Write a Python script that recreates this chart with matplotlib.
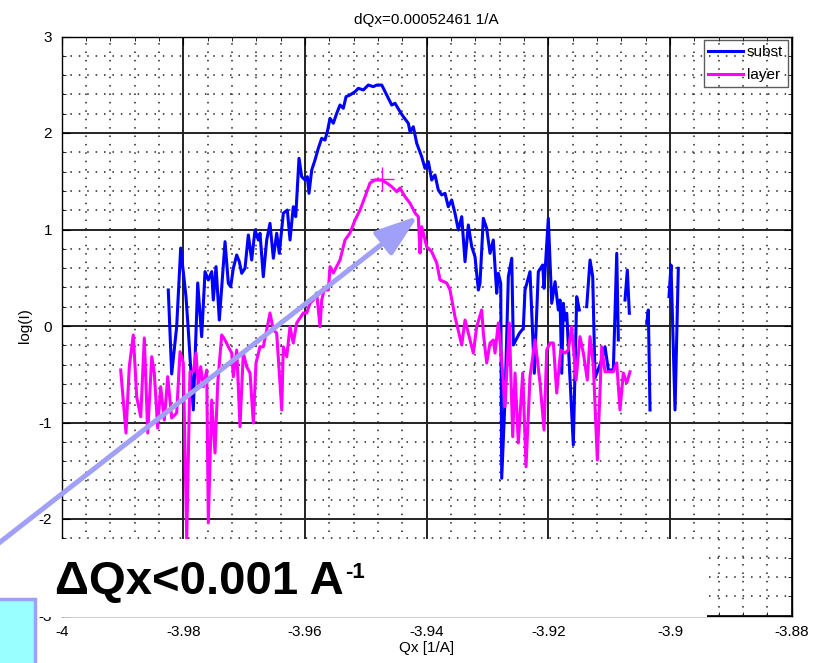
import numpy as np
import matplotlib
matplotlib.use("Agg")
import matplotlib.pyplot as plt
from matplotlib.patches import Rectangle
from matplotlib.ticker import MultipleLocator, FormatStrFormatter

plt.rcParams['font.family'] = ['Liberation Sans', 'DejaVu Sans']
plt.rcParams['axes.unicode_minus'] = False

nan = np.nan

# substrate scan, gaps where the counts were zero
subst_qx = [-3.98248, -3.98192, -3.98110, -3.98044, -3.97957, -3.97919, -3.97837, -3.97764,
            -3.97699, -3.97644, -3.97590, -3.97534, -3.97508, -3.97463, -3.97409, -3.97315,
            -3.97261, -3.97222, -3.97179, -3.97123, -3.97080, -3.97041, -3.96987, -3.96932,
            -3.96877, -3.96822, -3.96768, -3.96740, -3.96686, -3.96630, -3.96576, -3.96521,
            -3.96466, -3.96423, -3.96357, -3.96291, -3.96247, -3.96193, -3.96153, -3.96099,
            -3.96055, -3.96000, -3.95962, -3.95935, -3.95890, -3.95836, -3.95782, -3.95726,
            -3.95672, -3.95634, -3.95589, -3.95535, -3.95479, -3.95425, -3.95371, -3.95326,
            -3.95261, -3.95178, -3.95124, -3.95042, -3.94960, -3.94878, -3.94822, -3.94739,
            -3.94685, -3.94631, -3.94575, -3.94521, -3.94439, -3.94384, -3.94302, -3.94274,
            -3.94220, -3.94164, -3.94082, -3.94028, -3.93973, -3.93918, -3.93863, -3.93809,
            -3.93753, -3.93699, -3.93645, -3.93589, -3.93535, -3.93480, -3.93424, -3.93370,
            -3.93316, -3.93260, -3.93206, -3.93151, -3.93124, -3.93069, -3.93014, -3.92959,
            -3.92905, -3.92849, -3.92823, -3.92783, -3.92767, -3.92713, -3.92658, -3.92602,
            -3.92576, -3.92477, -3.92412, -3.92384, -3.92302, -3.92231, -3.92165, -3.92093,
            -3.92071, -3.92001, -3.91945, -3.91890, -3.91836, -3.91808, -3.91780, -3.91754,
            -3.91726, -3.91698, -3.91590, -3.91534, -3.91491, -3.91430, -3.91370, -3.91315,
            -3.91271, -3.91233, -3.91123, -3.91069, -3.91014, -3.90932, -3.90876, -3.90850,
            -3.90795, -3.90740, -3.90702, -3.90669, -3.90520, -3.90383, -3.90357, -3.90329,
            -3.90170, -3.90017, -3.89984, -3.89918, -3.89864]
subst_logi = [0.373, -0.497, -0.007, 0.808, 0.304, -0.041, -0.870, 0.446,
              -0.111, 0.563, 0.477, 0.563, 0.269, 0.615, 0.062, 0.874,
              0.442, 0.407, 0.598, 0.736, 0.666, 0.546, 0.598, 0.943,
              0.684, 0.995, 0.891, 0.961, 0.511, 0.891, 1.064, 0.702,
              0.961, 0.753, 1.168, 1.202, 0.891, 1.236, 1.133, 1.738,
              1.547, 1.513, 1.547, 1.375, 1.617, 1.720, 1.841, 1.945,
              1.927, 2.013, 2.152, 2.101, 2.204, 2.290, 2.256, 2.376,
              2.394, 2.428, 2.463, 2.446, 2.497, 2.480, 2.497, 2.497,
              2.428, 2.360, 2.290, 2.308, 2.221, 2.169, 2.101, 2.013,
              2.065, 1.893, 1.754, 1.634, 1.703, 1.513, 1.565, 1.409,
              1.358, 1.375, 1.236, 1.306, 1.168, 0.995, 1.133, 0.666,
              1.047, 0.822, 0.718, 0.373, 0.442, 1.116, 1.012, 0.753,
              0.891, 0.339, 0.546, 0.442, -1.578, -0.767, 0.511, 0.702,
              -0.197, -0.076, -0.024, 0.373, 0.563, -0.490, 0.563, 0.632,
              0.391, 1.116, 0.235, 0.459, 0.166, 0.269, -0.490, 0.235,
              0.062, 0.132, -1.233, 0.304, 0.166, nan, 0.200, 0.684,
              0.511, -0.539, -0.352, -0.215, -0.456, -0.456, 0.753, -0.145,
              nan, 0.269, 0.580, 0.132, nan, 0.028, 0.166, -0.870,
              nan, 0.304, 0.632, -0.870, 0.598]

# layer scan
layer_qx = [-3.99030, -3.98943, -3.98889, -3.98823, -3.98767, -3.98701, -3.98642, -3.98586,
            -3.98520, -3.98478, -3.98422, -3.98373, -3.98313, -3.98257, -3.98192, -3.98110,
            -3.98055, -3.98001, -3.97945, -3.97891, -3.97837, -3.97792, -3.97754, -3.97715,
            -3.97672, -3.97616, -3.97590, -3.97534, -3.97480, -3.97435, -3.97370, -3.97315,
            -3.97261, -3.97205, -3.97179, -3.97123, -3.97069, -3.97015, -3.96959, -3.96904,
            -3.96850, -3.96806, -3.96740, -3.96686, -3.96630, -3.96576, -3.96521, -3.96466,
            -3.96383, -3.96357, -3.96301, -3.96247, -3.96193, -3.96137, -3.96083, -3.96028,
            -3.95972, -3.95918, -3.95864, -3.95808, -3.95754, -3.95726, -3.95688, -3.95617,
            -3.95589, -3.95535, -3.95425, -3.95343, -3.95261, -3.95178, -3.95096, -3.95014,
            -3.94932, -3.94850, -3.94739, -3.94657, -3.94575, -3.94493, -3.94439, -3.94356,
            -3.94274, -3.94192, -3.94138, -3.94110, -3.94082, -3.94000, -3.93918, -3.93835,
            -3.93781, -3.93671, -3.93617, -3.93535, -3.93424, -3.93370, -3.93316, -3.93234,
            -3.93178, -3.93096, -3.93069, -3.93014, -3.92959, -3.92905, -3.92877, -3.92823,
            -3.92767, -3.92713, -3.92642, -3.92586, -3.92548, -3.92494, -3.92422, -3.92367,
            -3.92302, -3.92219, -3.92137, -3.92071, -3.92027, -3.91972, -3.91918, -3.91863,
            -3.91797, -3.91726, -3.91672, -3.91616, -3.91545, -3.91480, -3.91425, -3.91360,
            -3.91315, -3.91261, -3.91195, -3.91123, -3.91069, -3.90932, -3.90876, -3.90822,
            -3.90768, -3.90712, -3.90658]
layer_logi = [-0.456, -1.109, -0.422, -0.093, -0.736, -0.940, -0.124, -1.109,
              -0.318, -0.487, -1.057, -0.629, -0.974, -0.525, -0.953, -0.902,
              -0.266, -0.383, -2.218, -0.474, -0.474, -0.280, -0.629, -0.422,
              -0.629, -0.456, -2.041, -0.767, -1.316, -0.591, -0.093, -0.145,
              -0.215, -0.280, -0.525, -0.249, -1.044, -0.280, -0.422, -0.487,
              -1.005, -0.383, -0.215, -0.215, -0.041, 0.135, -0.041, -0.073,
              -0.870, -0.215, -0.318, -0.007, -0.176, 0.031, 0.083, 0.135,
              0.135, 0.238, 0.269, 0.342, -0.007, 0.269, 0.373, 0.373,
              0.615, 0.549, 0.684, 0.891, 0.964, 1.098, 1.202, 1.340,
              1.482, 1.513, 1.513, 1.482, 1.444, 1.392, 1.430, 1.340,
              1.272, 1.171, 1.133, 0.756, 1.029, 0.822, 0.770, 0.653,
              0.477, 0.446, 0.373, 0.096, -0.197, 0.062, -0.073, -0.280,
              -0.007, 0.166, -0.073, -0.383, -0.176, -0.145, -0.280, 0.031,
              -0.352, -0.836, 0.031, -1.147, -0.487, -1.212, -0.487, -1.458,
              -0.525, -0.145, -0.591, -1.078, -0.249, -0.176, -0.176, -0.694,
              -0.249, -0.280, -0.249, -0.007, -0.560, -0.111, -0.280, -0.560,
              -0.111, -0.404, -1.389, -0.215, -0.474, -0.474, -0.383, -0.870,
              -0.487, -0.591, -0.474]

# layer peak position
peak_qx = -3.94734
peak_logi = 1.523

dqx = 0.00052461

W, H = 816, 663
fig = plt.figure(figsize=(W / 100, H / 100), dpi=100)
ax = fig.add_axes([61.7 / W, 1 - 615.5 / H, 730.0 / W, 579.0 / H])

ax.plot(subst_qx, subst_logi, color='#0000ff', lw=2.2, label='subst')
ax.plot(layer_qx, layer_logi, color='#ff00ff', lw=2.2, label='layer')
ax.plot([peak_qx], [peak_logi], '+', color='#ff00ff', ms=17, mew=1.0)

ax.set_xlim(-4, -3.88)
ax.set_ylim(-3, 3)
ax.xaxis.set_major_locator(MultipleLocator(0.02))
ax.xaxis.set_minor_locator(MultipleLocator(0.004))
ax.yaxis.set_major_locator(MultipleLocator(1))
ax.yaxis.set_minor_locator(MultipleLocator(0.2))
ax.xaxis.set_major_formatter(FormatStrFormatter('%g'))
ax.yaxis.set_major_formatter(FormatStrFormatter('%g'))
ax.grid(True, which='major', color='#222222', lw=1.4, ls='-')
ax.grid(True, which='minor', color='#222222', lw=1.1, ls=(0, (1, 4.5)))
ax.tick_params(which='both', direction='in', top=True, right=True, labelsize=11)
ax.tick_params(which='major', length=6, pad=7)
ax.tick_params(which='minor', length=3)
for s in ax.spines.values():
    s.set_linewidth(1.0)

ax.set_title('dQx={:.8f} 1/A'.format(dqx), fontsize=11, pad=9)
ax.set_xlabel('Qx [1/A]', fontsize=11, labelpad=1)
ax.set_ylabel('log(I)', fontsize=11, labelpad=5)

leg = ax.legend(loc='upper right', fontsize=11, fancybox=False,
                edgecolor='#333333', handlelength=2.3, handletextpad=0.25,
                borderpad=0.3, labelspacing=0.6, borderaxespad=0.25)
leg.get_frame().set_facecolor('none')
leg.get_frame().set_linewidth(1.0)

# white box over the lower part of the plot
fig.add_artist(Rectangle((36 / W, 1 - 617 / H), (707 - 36) / W, (617 - 539) / H,
                         transform=fig.transFigure, facecolor='white',
                         edgecolor='none', zorder=5))

# cyan box in the corner
fig.add_artist(Rectangle((-5 / W, -5 / H), 39.5 / W, (663 - 599 + 5) / H,
                         transform=fig.transFigure, facecolor='#99ffff',
                         edgecolor='#a0a0f8', lw=2.5, zorder=6))

# arrow pointing at the layer peak shoulder
ax.annotate('', xy=(418, H - 216), xytext=(-10, H - 550),
            xycoords='figure pixels', textcoords='figure pixels',
            annotation_clip=False, zorder=7,
            arrowprops=dict(arrowstyle='-|>,head_length=1.3,head_width=0.45',
                            mutation_scale=20, lw=3.6, color='#a0a0f8',
                            shrinkA=0, shrinkB=0))

label = fig.text(55 / W, 1 - 594 / H, 'ΔQx<0.001 A', fontsize=34, weight='bold',
                 va='baseline', ha='left', zorder=8)
fig.canvas.draw()
x_end = label.get_window_extent().x1
fig.text((x_end + 1) / W, 1 - 578 / H, '-1', fontsize=16, weight='bold',
         va='baseline', ha='left', zorder=8)

fig.savefig('out.png', dpi=100)
